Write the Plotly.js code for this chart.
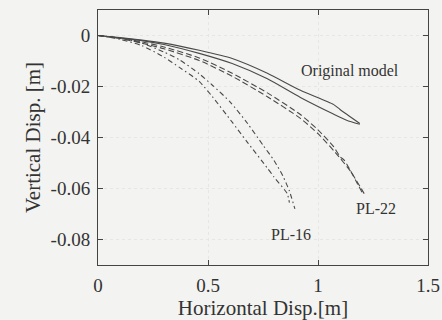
<!DOCTYPE html>
<html>
<head>
<meta charset="utf-8">
<script src="https://cdn.plot.ly/plotly-3.0.1.min.js"></script>
<style>html,body{margin:0;padding:0;background:#f3f3f1;}#chart{width:442px;height:320px;}</style>
</head>
<body>
<div id="chart"></div>
<script>
// Original model (two solid lines)
const origAx = [0, 0.1, 0.2, 0.3, 0.46, 0.61, 0.77, 0.92, 1.07, 1.1, 1.19];
const origAy = [0, -0.0008, -0.0018, -0.003, -0.0058, -0.009, -0.0148, -0.0215, -0.027, -0.029, -0.0345];
const origBx = [0, 0.1, 0.2, 0.3, 0.46, 0.61, 0.77, 0.92, 1.07, 1.13, 1.19];
const origBy = [0, -0.001, -0.002, -0.0035, -0.007, -0.011, -0.017, -0.0243, -0.0308, -0.0332, -0.0348];
// PL-22 (two dashed lines)
const pl22Ax = [0, 0.1, 0.2, 0.3, 0.46, 0.61, 0.77, 0.92, 1.0, 1.07, 1.1, 1.12, 1.2];
const pl22Ay = [0, -0.001, -0.0025, -0.0045, -0.0088, -0.0148, -0.0225, -0.031, -0.037, -0.0435, -0.0475, -0.049, -0.0615];
const pl22Bx = [0, 0.1, 0.2, 0.3, 0.46, 0.61, 0.77, 0.92, 1.0, 1.08, 1.15, 1.21];
const pl22By = [0, -0.0012, -0.003, -0.0052, -0.0098, -0.016, -0.024, -0.0325, -0.0385, -0.046, -0.0535, -0.062];
// PL-16 (two dash-dot lines)
const pl16Ax = [0, 0.1, 0.2, 0.3, 0.37, 0.46, 0.52, 0.61, 0.68, 0.77, 0.8, 0.86, 0.87];
const pl16Ay = [0, -0.0015, -0.004, -0.0085, -0.0125, -0.018, -0.024, -0.034, -0.042, -0.052, -0.0555, -0.062, -0.0655];
const pl16Bx = [0, 0.1, 0.2, 0.3, 0.37, 0.46, 0.52, 0.6, 0.68, 0.75, 0.8, 0.84, 0.87, 0.895];
const pl16By = [0, -0.001, -0.003, -0.0065, -0.0095, -0.015, -0.0195, -0.026, -0.0345, -0.043, -0.049, -0.055, -0.061, -0.068];

const xTicks = [0, 0.5, 1, 1.5];
const xTickText = ['0', '0.5', '1', '1.5'];
const yTicks = [0, -0.02, -0.04, -0.06, -0.08];
const yTickText = ['0', '-0.02', '-0.04', '-0.06', '-0.08'];

const labels = [
  {text: 'Original model', x: 1.144, y: -0.0141},
  {text: 'PL-22', x: 1.265, y: -0.0678},
  {text: 'PL-16', x: 0.879, y: -0.0782}
];

const lc = '#4a4a4a';
function tr(x, y, dash) {
  return {x: x, y: y, type: 'scatter', mode: 'lines',
    line: {color: lc, width: 1.1, dash: dash, shape: 'spline', smoothing: 0.6}, hoverinfo: 'skip'};
}
const data = [
  tr(origAx, origAy, 'solid'), tr(origBx, origBy, 'solid'),
  tr(pl22Ax, pl22Ay, '6px,3px'), tr(pl22Bx, pl22By, '6px,3px'),
  tr(pl16Ax, pl16Ay, '5px,3px,1.5px,3px'), tr(pl16Bx, pl16By, '5px,3px,1.5px,3px')
];

const font = 'Liberation Serif';
const axCommon = {
  showline: true, mirror: 'allticks', linecolor: '#444', linewidth: 1,
  ticks: 'inside', ticklen: 5, tickcolor: '#444',
  showgrid: true, gridcolor: '#e6e6e4', griddash: 'dot', gridwidth: 1,
  zeroline: false, tickfont: {family: font, size: 19, color: '#333'}
};
const layout = {
  width: 442, height: 320,
  font: {family: font, color: '#333'},
  margin: {l: 98, r: 14, t: 10, b: 55},
  paper_bgcolor: '#f3f3f1', plot_bgcolor: '#f3f3f1',
  showlegend: false,
  xaxis: Object.assign({}, axCommon, {
    range: [0, 1.5], tickvals: xTicks, ticktext: xTickText, ticklabelstandoff: 3,
    title: {text: 'Horizontal Disp.[m]', font: {family: font, size: 21, color: '#333'}, standoff: 7}
  }),
  yaxis: Object.assign({}, axCommon, {
    range: [-0.09, 0.01], tickvals: yTicks, ticktext: yTickText, ticklabelstandoff: 3,
    title: {text: 'Vertical Disp. [m]', font: {family: font, size: 21, color: '#333'}, standoff: 4}
  }),
  annotations: labels.map(l => ({
    text: l.text, x: l.x, y: l.y, xref: 'x', yref: 'y', showarrow: false,
    font: {family: font, size: 16, color: '#333'}
  }))
};
Plotly.newPlot('chart', data, layout, {staticPlot: true, displayModeBar: false});
</script>
</body>
</html>
